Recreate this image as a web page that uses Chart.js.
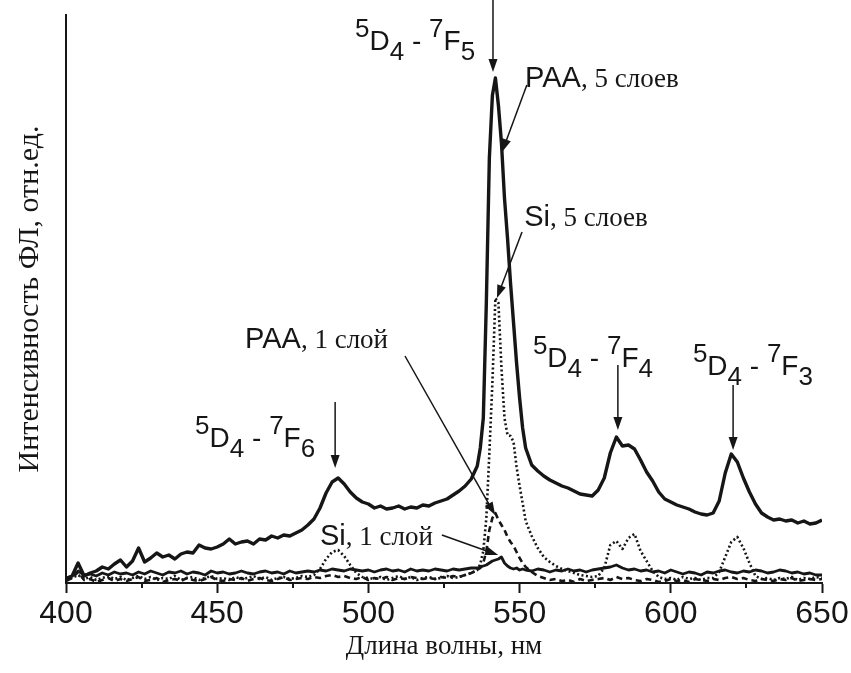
<!DOCTYPE html>
<html><head><meta charset="utf-8">
<script src="https://cdn.jsdelivr.net/npm/chart.js@4.4.0/dist/chart.umd.min.js"></script>
<style>html,body{margin:0;padding:0;background:#fff;}canvas{display:block;}</style>
</head><body>
<canvas id="c" width="851" height="673"></canvas>
<script>
// ---- data (wavelength, nm) ----
const wavelength = [
 400,402,404,406,408,410,412,414,416,418,
 420,422,424,426,428,430,432,434,436,438,
 440,442,444,446,448,450,452,454,456,458,
 460,462,464,466,468,470,472,474,476,478,
 480,482,484,486,488,490,492,494,496,498,
 500,502,504,506,508,510,512,514,516,518,
 520,522,524,526,528,530,532,534,
 536,537,538,539,540,541,542,543,544,545,546,547,548,549,550,551,552,
 554,556,558,560,562,564,566,568,570,572,
 574,576,578,580,582,584,586,588,590,592,
 594,596,598,600,602,604,606,608,610,612,
 614,616,618,620,622,624,626,628,630,632,
 634,636,638,640,642,644,646,648,650];

// PAA, 5 слоев (thick solid)
const paa5Layers = [
 0.8,1.4,4.0,1.4,2.0,2.4,3.2,2.8,3.8,4.6,
 3.2,4.4,7.0,4.2,5.0,6.0,5.2,5.6,4.8,5.8,
 6.2,6.0,7.6,7.0,6.8,7.2,7.8,8.8,7.8,8.2,
 8.4,7.8,8.8,8.6,9.4,9.0,9.6,9.4,10.0,10.6,
 11.6,12.8,15.0,18.0,20.2,21.0,19.8,18.2,17.0,16.2,
 15.8,15.0,15.4,14.8,15.0,15.4,14.8,15.2,15.0,15.6,
 15.4,16.0,16.4,16.8,17.6,18.4,19.4,20.8,
 23.4,27.0,33.0,56.0,85.0,97.5,101.0,95.5,88.0,77.0,69.0,60.0,52.0,44.0,37.0,31.0,27.0,
 23.6,22.4,21.4,20.6,20.0,19.4,19.0,18.4,17.8,17.6,
 17.4,18.6,21.0,26.0,29.2,27.4,27.6,26.8,24.6,22.2,
 20.4,18.2,16.8,16.2,15.6,15.2,14.8,14.2,13.8,13.6,
 14.0,16.4,22.0,25.8,24.2,21.0,18.2,15.8,14.0,13.2,
 12.6,12.8,12.4,12.6,12.0,12.4,11.8,12.0,12.6];

// Si, 5 слоев (dotted)
const si5Layers = [
 0.6,1.0,1.6,0.8,1.2,0.6,1.0,1.4,0.8,1.2,
 0.6,1.0,1.4,0.8,1.2,0.6,1.0,0.8,1.4,0.6,
 1.0,1.2,0.6,1.0,1.4,0.8,1.0,0.6,1.2,0.8,
 1.0,1.4,0.8,1.2,0.6,1.0,1.2,0.8,1.0,1.4,
 1.2,1.6,2.8,4.8,6.2,6.6,5.4,3.6,2.0,1.2,
 1.0,0.8,1.2,0.6,1.0,1.4,0.8,1.2,0.6,1.0,
 1.2,0.8,1.0,1.4,1.0,1.2,1.6,2.0,
 2.6,3.8,6.4,13.0,26.0,40.0,57.0,56.0,43.0,33.0,29.6,29.4,28.2,23.2,19.4,16.0,12.4,
 9.4,7.0,5.2,4.2,3.4,2.8,2.4,2.0,1.6,1.4,
 1.2,1.4,3.0,7.6,8.4,6.8,9.0,9.8,6.4,4.4,
 2.4,1.2,0.8,1.0,0.6,1.2,0.8,1.0,0.6,1.0,
 1.0,2.2,5.2,8.2,9.2,7.0,4.0,1.4,0.8,1.0,
 0.6,1.0,0.8,1.2,0.6,1.0,0.8,1.2,1.0];

// PAA, 1 слой (dashed)
const paa1Layer = [
 0.4,1.0,2.2,0.6,0.8,0.2,0.6,1.0,0.4,0.8,
 0.4,0.8,1.2,0.4,0.6,1.0,0.2,0.6,0.8,0.4,
 1.0,0.6,0.4,0.8,1.2,0.6,0.4,0.8,0.6,1.0,
 0.4,0.8,1.0,0.6,0.4,0.8,1.2,0.6,0.8,1.0,
 0.8,1.2,1.0,1.4,1.6,1.2,1.4,1.0,0.8,1.2,
 0.6,1.0,0.8,1.2,0.6,1.0,0.8,1.2,1.0,0.8,
 1.0,0.8,1.2,1.0,1.4,1.2,1.6,2.0,
 2.6,3.0,4.0,6.4,10.6,13.0,14.0,12.6,11.6,10.6,9.2,8.2,7.4,6.2,5.0,4.0,3.2,
 2.2,1.4,1.0,0.6,0.8,0.4,0.6,0.2,0.8,0.4,
 0.6,0.8,1.0,0.6,1.2,0.8,1.0,0.6,0.4,0.8,
 0.6,0.2,0.4,0.8,0.4,0.6,0.2,0.8,0.6,0.4,
 0.8,0.6,1.0,1.2,0.8,1.0,0.6,0.4,0.8,0.6,
 0.4,0.8,0.6,1.0,0.4,0.6,0.8,0.6,0.8];

// Si, 1 слой (solid, low)
const si1Layer = [
 1.0,1.4,2.4,1.6,1.8,1.4,2.0,1.6,2.2,1.8,
 2.0,1.6,2.2,1.8,2.4,2.0,1.6,2.2,2.0,2.4,
 1.8,2.2,2.0,1.6,2.4,2.0,2.2,1.8,2.0,2.4,
 2.0,1.8,2.2,2.4,2.0,2.2,1.8,2.4,2.0,2.2,
 2.4,2.2,2.6,2.4,2.8,2.6,2.4,2.8,2.6,2.4,
 2.6,2.2,2.6,2.8,2.4,2.6,2.2,2.8,2.4,2.6,
 2.4,2.8,2.6,2.4,2.8,2.6,2.8,3.0,
 3.0,3.2,3.4,3.6,4.0,4.4,4.6,4.8,5.2,4.0,3.4,3.0,2.8,3.0,2.6,2.8,2.6,
 2.4,2.8,2.6,2.2,2.6,2.4,2.8,2.4,2.6,2.2,
 2.6,2.8,3.0,3.2,3.6,3.0,2.6,2.8,2.4,2.6,
 2.2,2.4,2.0,2.6,2.2,1.8,2.2,2.0,1.6,2.2,
 2.0,2.4,2.6,2.2,2.0,2.4,2.2,2.6,2.4,2.0,
 2.2,2.6,2.4,2.0,2.2,1.8,2.0,1.6,1.6];

const xMajorTicks = [400,450,500,550,600,650];
const xMinorTicks = [425,475,525,575,625];

const ink = '#161616';
const SANS = 'Liberation Sans, Arial, sans-serif';
const SERIF = 'Liberation Serif, Times New Roman, serif';

function transition(lower){
  return [['5','sup'],['D','main'],['4','sub'],[' - ','main'],['7','sup'],['F','main'],[lower,'sub']];
}
function sample(name, rest){ return [[name,'sans'],[rest,'serif']]; }

const annotations = [
  {arrow:[[541.2,116.6],[541.2,102.2]]},
  {arrow:[[552.4,99.6],[544.2,86.2]]},
  {arrow:[[550.8,70.2],[542.5,57.0]]},
  {arrow:[[512.1,45.4],[541.9,13.6]]},
  {arrow:[[524.3,9.6],[542.9,5.6]]},
  {arrow:[[489.0,36.2],[489.0,23.0]]},
  {arrow:[[582.5,43.6],[582.5,30.6]]},
  {arrow:[[620.6,39.6],[620.6,26.6]]},
  {text:[495.6,106.6], parts:transition('5')},
  {text:[551.8,99.2], parts:sample('PAA',', 5 слоев')},
  {text:[551.5,71.4], parts:sample('Si',', 5 слоев')},
  {text:[459.2,47.0], parts:sample('PAA',', 1 слой')},
  {text:[484.0,7.6], parts:sample('Si',', 1 слой')},
  {text:[442.7,27.2], parts:transition('6')},
  {text:[554.4,43.2], parts:transition('4')},
  {text:[607.3,41.6], parts:transition('3')}
];

const partStyle = {
  main:{font:'28px '+SANS, dy:0},
  sup:{font:'26px '+SANS, dy:-13},
  sub:{font:'26px '+SANS, dy:10},
  sans:{font:'29px '+SANS, dy:0},
  serif:{font:'27px '+SERIF, dy:0}
};

function drawArrow(ctx,x1,y1,x2,y2){
  const a = Math.atan2(y2-y1,x2-x1), L=13, W=4.5;
  ctx.beginPath(); ctx.moveTo(x1,y1); ctx.lineTo(x2-L*0.7*Math.cos(a), y2-L*0.7*Math.sin(a));
  ctx.lineWidth=1.5; ctx.stroke();
  ctx.beginPath(); ctx.moveTo(x2,y2);
  ctx.lineTo(x2-L*Math.cos(a)+W*Math.sin(a), y2-L*Math.sin(a)-W*Math.cos(a));
  ctx.lineTo(x2-L*Math.cos(a)-W*Math.sin(a), y2-L*Math.sin(a)+W*Math.cos(a));
  ctx.closePath(); ctx.fill();
}

const annotPlugin = {
  id:'annot',
  afterDraw(chart){
    const {ctx, chartArea, scales:{x,y}} = chart;
    ctx.save();
    ctx.strokeStyle = ink; ctx.fillStyle = ink;
    ctx.lineWidth = 2;
    xMinorTicks.forEach(v=>{
      const px = Math.round(x.getPixelForValue(v));
      ctx.beginPath(); ctx.moveTo(px, chartArea.bottom); ctx.lineTo(px, chartArea.bottom+5); ctx.stroke();
    });
    annotations.forEach(an=>{
      if (an.arrow){
        const [p,q] = an.arrow;
        drawArrow(ctx, x.getPixelForValue(p[0]), y.getPixelForValue(p[1]), x.getPixelForValue(q[0]), y.getPixelForValue(q[1]));
      } else {
        let px = x.getPixelForValue(an.text[0]);
        const py = y.getPixelForValue(an.text[1]);
        ctx.textBaseline = 'alphabetic'; ctx.textAlign = 'left';
        an.parts.forEach(([t,k])=>{
          const st = partStyle[k];
          ctx.font = st.font;
          ctx.fillText(t, px, py+st.dy);
          px += ctx.measureText(t).width;
        });
      }
    });
    ctx.restore();
  }
};

const mk = (vals) => wavelength.map((w,i)=>({x:w, y:vals[i]}));

new Chart(document.getElementById('c'), {
  type:'line',
  data:{datasets:[
    {label:'Si, 1 слой', data:mk(si1Layer), borderColor:ink, borderWidth:2.8},
    {label:'PAA, 1 слой', data:mk(paa1Layer), borderColor:ink, borderWidth:2.6, borderDash:[6,4]},
    {label:'Si, 5 слоев', data:mk(si5Layers), borderColor:ink, borderWidth:2.6, borderDash:[2,2.5]},
    {label:'PAA, 5 слоев', data:mk(paa5Layers), borderColor:ink, borderWidth:3.4}
  ]},
  options:{
    responsive:false, animation:false, devicePixelRatio:1,
    layout:{padding:{top:15,right:29,left:0,bottom:0}},
    plugins:{legend:{display:false}, tooltip:{enabled:false}},
    elements:{point:{radius:0}, line:{tension:0, fill:false, borderJoinStyle:'round'}},
    scales:{
      x:{type:'linear', min:400, max:650,
        afterFit:s=>{s.height=90;},
        afterBuildTicks:s=>{s.ticks = xMajorTicks.map(v=>({value:v}));},
        ticks:{font:{family:SANS,size:32}, color:ink, padding:2, maxRotation:0, autoSkip:false},
        grid:{display:true, drawOnChartArea:false, drawTicks:true, tickLength:10, tickWidth:2, tickColor:ink},
        border:{display:true, color:ink, width:2},
        title:{display:true, text:'Длина волны, нм', font:{family:SERIF,size:27}, color:ink, padding:{top:0,bottom:10}}
      },
      y:{min:0, max:113.6,
        afterFit:s=>{s.width=66;},
        ticks:{display:false}, grid:{display:false},
        border:{display:true, color:ink, width:2},
        title:{display:true, text:'Интенсивность ФЛ, отн.ед.', font:{family:SERIF,size:30}, color:ink, padding:{top:12,bottom:0}}
      }
    }
  },
  plugins:[annotPlugin]
});
</script>
</body></html>
